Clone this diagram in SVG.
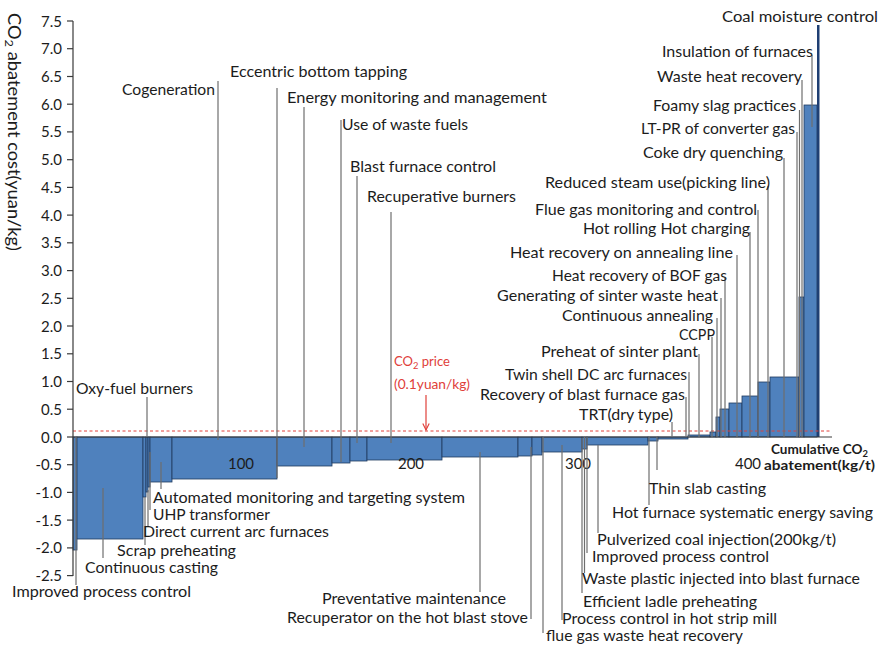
<svg xmlns="http://www.w3.org/2000/svg" width="880" height="645" viewBox="0 0 880 645">
<style>
.bg{fill:#ffffff}
.bar{fill:#4f81bd;stroke:#203a5e;stroke-width:0.8}
.ax{stroke:#3a3a3a;stroke-width:1.2;fill:none}
.tk{stroke:#3a3a3a;stroke-width:1.2}
.ld{stroke:#6e6e6e;stroke-width:1.2;fill:none}
.t{font-family:Lato,"Liberation Sans",sans-serif;font-size:15px;fill:#1c1c1c}
.tv{font-family:Lato,"Liberation Sans",sans-serif;font-size:15px;fill:#1c1c1c;text-anchor:end}
.yl{font-family:Lato,"Liberation Sans",sans-serif;font-size:17px;fill:#1c1c1c}
.xl{font-family:Lato,"Liberation Sans",sans-serif;font-size:13px;font-weight:bold;fill:#1c1c1c}
.red{font-family:Lato,"Liberation Sans",sans-serif;font-size:12.5px;fill:#e0403a}
</style>
<defs>
<marker id="arr" viewBox="0 0 10 10" refX="9" refY="5" markerWidth="8" markerHeight="8" orient="auto" markerUnits="userSpaceOnUse">
<path d="M1,1 L9,5 L1,9" fill="none" stroke="#e0403a" stroke-width="1.4"/>
</marker>
</defs>
<rect class="bg" x="0" y="0" width="880" height="645"/>

<g id="bars">
<rect class="bar" x="73" y="437" width="4" height="113"/>
<rect class="bar" x="77" y="437" width="66" height="102"/>
<rect class="bar" x="143" y="437" width="3" height="60"/>
<rect class="bar" x="146" y="437" width="2" height="55"/>
<rect class="bar" x="148" y="437" width="2" height="50"/>
<rect class="bar" x="150" y="437" width="22" height="45"/>
<rect class="bar" x="172" y="437" width="105" height="42"/>
<rect class="bar" x="277" y="437" width="55" height="29"/>
<rect class="bar" x="332" y="437" width="18" height="26"/>
<rect class="bar" x="350" y="437" width="17" height="24"/>
<rect class="bar" x="367" y="437" width="75" height="23"/>
<rect class="bar" x="442" y="437" width="76" height="20"/>
<rect class="bar" x="518" y="437" width="14" height="19"/>
<rect class="bar" x="532" y="437" width="10" height="18"/>
<rect class="bar" x="542" y="437" width="40" height="15"/>
<rect class="bar" x="582" y="437" width="5" height="12"/>
<rect class="bar" x="587" y="437" width="61" height="8"/>
<rect class="bar" x="648" y="437" width="10" height="4"/>
<rect class="bar" x="658" y="437" width="30" height="2"/>
<rect class="bar" x="688" y="435" width="22" height="2"/>
<rect class="bar" x="710" y="432" width="6" height="5"/>
<rect class="bar" x="716" y="417" width="4" height="20"/>
<rect class="bar" x="720" y="409" width="9" height="28"/>
<rect class="bar" x="729" y="403" width="13" height="34"/>
<rect class="bar" x="742" y="396" width="16" height="41"/>
<rect class="bar" x="758" y="382" width="12" height="55"/>
<rect class="bar" x="770" y="377" width="29" height="60"/>
<rect class="bar" x="799" y="297" width="5" height="140"/>
<rect class="bar" x="804" y="105" width="13" height="332"/>
<rect x="817" y="25" width="2.5" height="412" fill="#1f3f73"/>
</g>

<g id="price-line">
<line x1="73" y1="431" x2="832" y2="431" stroke="#e0403a" stroke-width="1" stroke-dasharray="3,2.5"/>
</g>

<g id="axes">
<line class="ax" x1="73" y1="21" x2="73" y2="576"/>
<line class="ax" x1="73" y1="437" x2="832" y2="437"/>
<line class="tk" x1="67" y1="21" x2="73" y2="21"/>
<line class="tk" x1="67" y1="48.7" x2="73" y2="48.7"/>
<line class="tk" x1="67" y1="76.5" x2="73" y2="76.5"/>
<line class="tk" x1="67" y1="104.2" x2="73" y2="104.2"/>
<line class="tk" x1="67" y1="131.9" x2="73" y2="131.9"/>
<line class="tk" x1="67" y1="159.7" x2="73" y2="159.7"/>
<line class="tk" x1="67" y1="187.4" x2="73" y2="187.4"/>
<line class="tk" x1="67" y1="215.1" x2="73" y2="215.1"/>
<line class="tk" x1="67" y1="242.8" x2="73" y2="242.8"/>
<line class="tk" x1="67" y1="270.6" x2="73" y2="270.6"/>
<line class="tk" x1="67" y1="298.3" x2="73" y2="298.3"/>
<line class="tk" x1="67" y1="326" x2="73" y2="326"/>
<line class="tk" x1="67" y1="353.8" x2="73" y2="353.8"/>
<line class="tk" x1="67" y1="381.5" x2="73" y2="381.5"/>
<line class="tk" x1="67" y1="409.2" x2="73" y2="409.2"/>
<line class="tk" x1="67" y1="437" x2="73" y2="437"/>
<line class="tk" x1="67" y1="464.7" x2="73" y2="464.7"/>
<line class="tk" x1="67" y1="492.4" x2="73" y2="492.4"/>
<line class="tk" x1="67" y1="520.1" x2="73" y2="520.1"/>
<line class="tk" x1="67" y1="547.9" x2="73" y2="547.9"/>
<line class="tk" x1="67" y1="575.6" x2="73" y2="575.6"/>
<text class="tv" x="62" y="26.5">7.5</text>
<text class="tv" x="62" y="54.2">7.0</text>
<text class="tv" x="62" y="82">6.5</text>
<text class="tv" x="62" y="109.7">6.0</text>
<text class="tv" x="62" y="137.4">5.5</text>
<text class="tv" x="62" y="165.2">5.0</text>
<text class="tv" x="62" y="192.9">4.5</text>
<text class="tv" x="62" y="220.6">4.0</text>
<text class="tv" x="62" y="248.3">3.5</text>
<text class="tv" x="62" y="276.1">3.0</text>
<text class="tv" x="62" y="303.8">2.5</text>
<text class="tv" x="62" y="331.5">2.0</text>
<text class="tv" x="62" y="359.3">1.5</text>
<text class="tv" x="62" y="387">1.0</text>
<text class="tv" x="62" y="414.7">0.5</text>
<text class="tv" x="62" y="442.5">0.0</text>
<text class="tv" x="62" y="470.2">-0.5</text>
<text class="tv" x="62" y="497.9">-1.0</text>
<text class="tv" x="62" y="525.6">-1.5</text>
<text class="tv" x="62" y="553.4">-2.0</text>
<text class="tv" x="62" y="580.6">-2.5</text>
<text class="t" x="241" y="469" text-anchor="middle">100</text>
<text class="t" x="411" y="469" text-anchor="middle">200</text>
<text class="t" x="578" y="469" text-anchor="middle">300</text>
<text class="t" x="748" y="469" text-anchor="middle">400</text>
<text class="yl" transform="translate(8,13) rotate(90)" textLength="238" lengthAdjust="spacingAndGlyphs">CO<tspan dy="3" font-size="12">2</tspan><tspan dy="-3"> abatement cost(yuan/kg)</tspan></text>
<text class="xl" x="771" y="454" textLength="97" lengthAdjust="spacingAndGlyphs">Cumulative CO<tspan dy="3" font-size="9">2</tspan></text>
<text class="xl" x="764" y="470" textLength="111" lengthAdjust="spacingAndGlyphs">abatement(kg/t)</text>
</g>

<g id="connectors">
<line class="ld" x1="147" y1="397" x2="147" y2="437"/>
<line class="ld" x1="161" y1="462" x2="161" y2="489"/>
<line class="ld" x1="150" y1="452" x2="150" y2="510"/>
<line class="ld" x1="148" y1="490" x2="148" y2="527"/>
<line class="ld" x1="145" y1="497" x2="145" y2="545"/>
<line class="ld" x1="103" y1="488" x2="103" y2="558"/>
<line class="ld" x1="76" y1="437" x2="76" y2="585"/>
<line class="ld" x1="218" y1="81" x2="218" y2="440"/>
<line class="ld" x1="277" y1="88" x2="277" y2="478"/>
<line class="ld" x1="304" y1="107" x2="304" y2="447"/>
<line class="ld" x1="341" y1="120" x2="341" y2="462"/>
<line class="ld" x1="357" y1="176" x2="357" y2="443"/>
<line class="ld" x1="391" y1="212" x2="391" y2="443"/>
<line class="ld" x1="480" y1="452" x2="480" y2="592"/>
<line class="ld" x1="531" y1="447" x2="531" y2="619"/>
<line class="ld" x1="543" y1="437" x2="543" y2="633"/>
<line class="ld" x1="562" y1="445" x2="562" y2="620"/>
<line class="ld" x1="582" y1="438" x2="582" y2="593"/>
<line class="ld" x1="584.5" y1="437" x2="584.5" y2="573"/>
<line class="ld" x1="587" y1="437" x2="587" y2="553"/>
<line class="ld" x1="598" y1="445" x2="598" y2="533"/>
<line class="ld" x1="649" y1="437" x2="649" y2="505"/>
<line class="ld" x1="657" y1="437" x2="657" y2="470"/>
<line class="ld" x1="672" y1="422" x2="672" y2="437"/>
<line class="ld" x1="686" y1="397" x2="686" y2="437"/>
<line class="ld" x1="689" y1="372" x2="689" y2="437"/>
<line class="ld" x1="699" y1="354" x2="699" y2="437"/>
<line class="ld" x1="712" y1="337" x2="712" y2="437"/>
<line class="ld" x1="717" y1="318" x2="717" y2="437"/>
<line class="ld" x1="721" y1="298" x2="721" y2="437"/>
<line class="ld" x1="725" y1="278" x2="725" y2="437"/>
<line class="ld" x1="737" y1="255" x2="737" y2="437"/>
<line class="ld" x1="750" y1="232" x2="750" y2="437"/>
<line class="ld" x1="758" y1="210" x2="758" y2="437"/>
<line class="ld" x1="768" y1="186" x2="768" y2="437"/>
<line class="ld" x1="784" y1="158" x2="784" y2="437"/>
<line class="ld" x1="797" y1="132" x2="797" y2="437"/>
<line class="ld" x1="799.5" y1="110" x2="799.5" y2="437"/>
<line class="ld" x1="802" y1="80" x2="802" y2="437"/>
<line class="ld" x1="812" y1="55" x2="812" y2="127"/>
<line x1="426" y1="395" x2="426" y2="430" stroke="#e0403a" stroke-width="1.2" marker-end="url(#arr)"/>
</g>

<g id="labels">
<g id="n-oxy"><text class="t" x="76" y="394" textLength="117" lengthAdjust="spacingAndGlyphs">Oxy-fuel burners</text></g>
<g id="n-amts"><text class="t" x="153" y="503" textLength="312" lengthAdjust="spacingAndGlyphs">Automated monitoring and targeting system</text></g>
<g id="n-uhp"><text class="t" x="153" y="520" textLength="117" lengthAdjust="spacingAndGlyphs">UHP transformer</text></g>
<g id="n-dcaf"><text class="t" x="143" y="537" textLength="186" lengthAdjust="spacingAndGlyphs">Direct current arc furnaces</text></g>
<g id="n-scrap"><text class="t" x="117" y="556" textLength="119" lengthAdjust="spacingAndGlyphs">Scrap preheating</text></g>
<g id="n-cc"><text class="t" x="85" y="573" textLength="133" lengthAdjust="spacingAndGlyphs">Continuous casting</text></g>
<g id="n-ipc1"><text class="t" x="12" y="597" textLength="179" lengthAdjust="spacingAndGlyphs">Improved process control</text></g>
<g id="n-cogen"><text class="t" x="122" y="95" textLength="93" lengthAdjust="spacingAndGlyphs">Cogeneration</text></g>
<g id="n-ebt"><text class="t" x="230" y="77" textLength="177" lengthAdjust="spacingAndGlyphs">Eccentric bottom tapping</text></g>
<g id="n-emm"><text class="t" x="287" y="103" textLength="260" lengthAdjust="spacingAndGlyphs">Energy monitoring and management</text></g>
<g id="n-uwf"><text class="t" x="342" y="130" textLength="126" lengthAdjust="spacingAndGlyphs">Use of waste fuels</text></g>
<g id="n-bfc"><text class="t" x="350" y="172" textLength="146" lengthAdjust="spacingAndGlyphs">Blast furnace control</text></g>
<g id="n-rb"><text class="t" x="367" y="202" textLength="149" lengthAdjust="spacingAndGlyphs">Recuperative burners</text></g>
<g id="n-pm"><text class="t" x="322" y="604" textLength="184" lengthAdjust="spacingAndGlyphs">Preventative maintenance</text></g>
<g id="n-rhbs"><text class="t" x="287" y="623" textLength="241" lengthAdjust="spacingAndGlyphs">Recuperator on the hot blast stove</text></g>
<g id="n-fgwhr"><text class="t" x="546" y="641" textLength="197" lengthAdjust="spacingAndGlyphs">flue gas waste heat recovery</text></g>
<g id="n-pchsm"><text class="t" x="562" y="624" textLength="215" lengthAdjust="spacingAndGlyphs">Process control in hot strip mill</text></g>
<g id="n-elp"><text class="t" x="583" y="607" textLength="174" lengthAdjust="spacingAndGlyphs">Efficient ladle preheating</text></g>
<g id="n-wpi"><text class="t" x="582" y="584" textLength="278" lengthAdjust="spacingAndGlyphs">Waste plastic injected into blast furnace</text></g>
<g id="n-ipc2"><text class="t" x="592" y="562" textLength="177" lengthAdjust="spacingAndGlyphs">Improved process control</text></g>
<g id="n-pci"><text class="t" x="597" y="545" textLength="239" lengthAdjust="spacingAndGlyphs">Pulverized coal injection(200kg/t)</text></g>
<g id="n-hfses"><text class="t" x="612" y="518" textLength="261" lengthAdjust="spacingAndGlyphs">Hot furnace systematic energy saving</text></g>
<g id="n-tsc"><text class="t" x="649" y="494" textLength="117" lengthAdjust="spacingAndGlyphs">Thin slab casting</text></g>
<g id="n-trt"><text class="t" x="579" y="420" textLength="94" lengthAdjust="spacingAndGlyphs">TRT(dry type)</text></g>
<g id="n-rbfg"><text class="t" x="480" y="400" textLength="205" lengthAdjust="spacingAndGlyphs">Recovery of blast furnace gas</text></g>
<g id="n-tsdc"><text class="t" x="505" y="380" textLength="182" lengthAdjust="spacingAndGlyphs">Twin shell DC arc furnaces</text></g>
<g id="n-psp"><text class="t" x="541" y="357" textLength="157" lengthAdjust="spacingAndGlyphs">Preheat of sinter plant</text></g>
<g id="n-ccpp"><text class="t" x="679" y="340" textLength="36" lengthAdjust="spacingAndGlyphs">CCPP</text></g>
<g id="n-ca"><text class="t" x="562" y="321" textLength="151" lengthAdjust="spacingAndGlyphs">Continuous annealing</text></g>
<g id="n-gswh"><text class="t" x="497" y="301" textLength="221" lengthAdjust="spacingAndGlyphs">Generating of sinter waste heat</text></g>
<g id="n-hrbof"><text class="t" x="552" y="281" textLength="175" lengthAdjust="spacingAndGlyphs">Heat recovery of BOF gas</text></g>
<g id="n-hral"><text class="t" x="510" y="258" textLength="223" lengthAdjust="spacingAndGlyphs">Heat recovery on annealing line</text></g>
<g id="n-hrhc"><text class="t" x="583" y="234" textLength="167" lengthAdjust="spacingAndGlyphs">Hot rolling Hot charging</text></g>
<g id="n-fgmc"><text class="t" x="535" y="215" textLength="222" lengthAdjust="spacingAndGlyphs">Flue gas monitoring and control</text></g>
<g id="n-rsu"><text class="t" x="545" y="188" textLength="225" lengthAdjust="spacingAndGlyphs">Reduced steam use(picking line)</text></g>
<g id="n-cdq"><text class="t" x="643" y="158" textLength="140" lengthAdjust="spacingAndGlyphs">Coke dry quenching</text></g>
<g id="n-ltpr"><text class="t" x="641" y="134" textLength="154" lengthAdjust="spacingAndGlyphs">LT-PR of converter gas</text></g>
<g id="n-fsp"><text class="t" x="653" y="111" textLength="143" lengthAdjust="spacingAndGlyphs">Foamy slag practices</text></g>
<g id="n-whr"><text class="t" x="657" y="82" textLength="145" lengthAdjust="spacingAndGlyphs">Waste heat recovery</text></g>
<g id="n-iof"><text class="t" x="662" y="57" textLength="151" lengthAdjust="spacingAndGlyphs">Insulation of furnaces</text></g>
<g id="n-cmc"><text class="t" x="722" y="22" textLength="156" lengthAdjust="spacingAndGlyphs">Coal moisture control</text></g>
<g id="n-price">
<text class="red" x="394" y="366" textLength="56" lengthAdjust="spacingAndGlyphs">CO<tspan dy="2.5" font-size="9">2</tspan><tspan dy="-2.5"> price</tspan></text>
<text class="red" x="394" y="389" textLength="76" lengthAdjust="spacingAndGlyphs">(0.1yuan/kg)</text>
</g>
</g>
</svg>
